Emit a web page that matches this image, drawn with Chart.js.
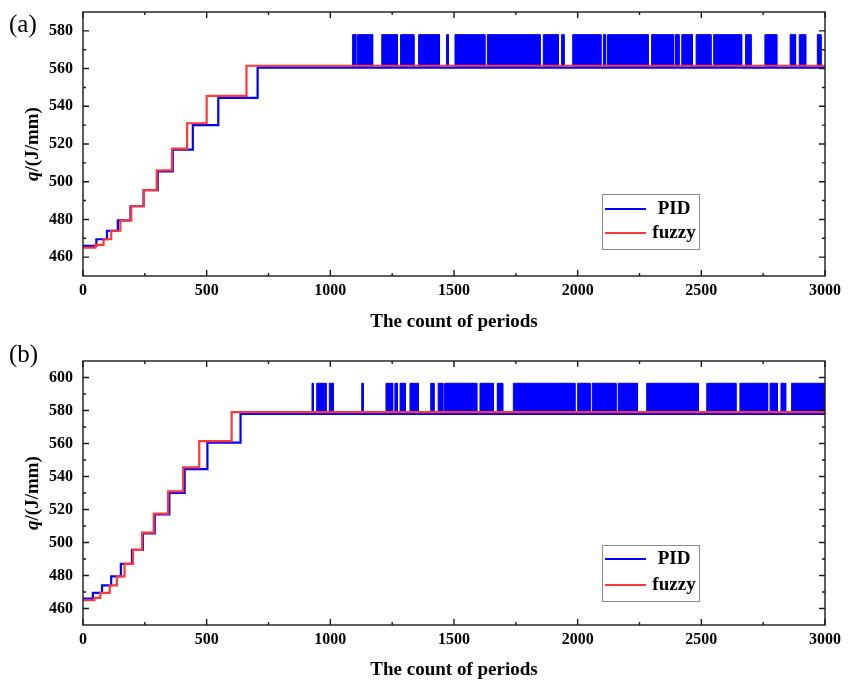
<!DOCTYPE html>
<html>
<head>
<meta charset="utf-8">
<script src="https://cdn.jsdelivr.net/npm/chart.js@4.4.0/dist/chart.umd.min.js"></script>
<style>
body { margin: 0; background: #fff; }
#wrap { width: 856px; height: 685px; position: relative; }
canvas { position: absolute; left: 0; }
</style>
</head>
<body>
<div id="wrap">
  <canvas id="chartA" width="856" height="340" style="top:0"></canvas>
  <canvas id="chartB" width="856" height="345" style="top:340px"></canvas>
</div>
<script>
// shared x axis
const xTicks = [0, 500, 1000, 1500, 2000, 2500, 3000];
const xMinor = [250, 750, 1250, 1750, 2250, 2750];

// panel (a)
const yTicksA = [460, 480, 500, 520, 540, 560, 580];
const yMinorA = [470, 490, 510, 530, 550, 570];
const pidStartA = [0, 54, 97, 141, 192, 245, 302, 363, 444, 547, 706];
const pidLevelA = [466, 469.5, 474, 479.5, 487, 495.5, 505.5, 517, 530, 544.5, 560.5];
const fuzzyStartA = [0, 50, 83, 114, 151, 195, 246, 298, 360, 421, 500, 661];
const fuzzyLevelA = [465, 466.5, 469.5, 474, 479.5, 487, 495.5, 506, 517.5, 531, 545.5, 561.5];
// periods where PID keeps switching between the two levels
const pidSwitchA = [[1090, 1103], [1109, 1171], [1208, 1271], [1284, 1338], [1357, 1441], [1470, 1477],
  [1504, 1625], [1635, 1848], [1861, 1922], [1935, 1945], [1980, 2094], [2104, 2113], [2121, 2285],
  [2299, 2387], [2394, 2410], [2421, 2464], [2479, 2539], [2550, 2663], [2679, 2701], [2757, 2805],
  [2859, 2881], [2896, 2922], [2969, 2984]];
const pidSwitchLevelsA = [560.5, 578];

// panel (b)
const yTicksB = [460, 480, 500, 520, 540, 560, 580, 600];
const yMinorB = [470, 490, 510, 530, 550, 570, 590];
const pidStartB = [0, 40, 77, 114, 153, 198, 242, 290, 349, 411, 503, 637];
const pidLevelB = [466, 469.5, 474, 479.5, 487, 495.5, 505.5, 517, 530, 544.5, 560.5, 578];
const fuzzyStartB = [0, 46, 70, 108, 137, 168, 202, 239, 286, 344, 405, 470, 601];
const fuzzyLevelB = [465, 466.5, 469.5, 474, 479.5, 487, 495.5, 506, 517.5, 531, 545.5, 561.5, 579];
const pidSwitchB = [[926, 931], [945, 972], [975, 983], [996, 1012], [1127, 1133], [1225, 1252],
  [1261, 1271], [1282, 1303], [1322, 1356], [1406, 1419], [1436, 1455], [1462, 1592], [1605, 1659],
  [1675, 1697], [1740, 1989], [2000, 2050], [2059, 2155], [2164, 2242], [2279, 2488], [2522, 2640],
  [2656, 2768], [2778, 2808], [2822, 2841], [2865, 2997]];
const pidSwitchLevelsB = [578, 596.5];

const X_END = 3000;
const SERIF = "'Liberation Serif', 'Times New Roman', serif";

function steps(starts, levels) {
    const pts = starts.map((x, i) => ({x: x, y: levels[i]}));
    pts.push({x: X_END, y: levels[levels.length - 1]});
    return pts;
}

function switching(intervals, levels) {
    const [lo, hi] = levels;
    return intervals.flatMap(([s, e]) => [{x: s, y: lo}, {x: s, y: hi}, {x: e, y: hi}, {x: e, y: lo}]);
}

// frame, inward ticks, axis titles, panel letter and the inside legend
const decor = {
    id: 'decor',
    afterDraw(chart, args, o) {
        const ctx = chart.ctx, a = chart.chartArea;
        const xs = chart.scales.x, ys = chart.scales.y;
        ctx.save();
        ctx.strokeStyle = '#1a1a1a';
        ctx.lineWidth = 1.4;
        ctx.strokeRect(a.left, a.top, a.right - a.left, a.bottom - a.top);
        ctx.beginPath();
        const mark = (px, py, dx, dy) => { ctx.moveTo(px, py); ctx.lineTo(px + dx, py + dy); };
        xTicks.forEach(v => { const p = xs.getPixelForValue(v); mark(p, a.bottom, 0, -6); mark(p, a.top, 0, 6); });
        xMinor.forEach(v => { const p = xs.getPixelForValue(v); mark(p, a.bottom, 0, -3); mark(p, a.top, 0, 3); });
        o.yTicks.forEach(v => { const p = ys.getPixelForValue(v); mark(a.left, p, 6, 0); mark(a.right, p, -6, 0); });
        o.yMinor.forEach(v => { const p = ys.getPixelForValue(v); mark(a.left, p, 3, 0); mark(a.right, p, -3, 0); });
        ctx.stroke();

        ctx.fillStyle = '#000';
        // x title
        ctx.font = 'bold 19px ' + SERIF;
        ctx.textAlign = 'center';
        ctx.textBaseline = 'middle';
        ctx.fillText('The count of periods', (a.left + a.right) / 2, o.xTitleY);

        // y title with italic q
        ctx.save();
        ctx.translate(o.yTitleX, (a.top + a.bottom) / 2);
        ctx.rotate(-Math.PI / 2);
        ctx.textAlign = 'left';
        const f1 = 'italic bold 19px ' + SERIF, f2 = 'bold 19px ' + SERIF;
        ctx.font = f1; const w1 = ctx.measureText('q').width;
        ctx.font = f2; const w2 = ctx.measureText('/(J/mm)').width;
        let sx = -(w1 + w2) / 2;
        ctx.font = f1; ctx.fillText('q', sx, 0);
        ctx.font = f2; ctx.fillText('/(J/mm)', sx + w1, 0);
        ctx.restore();

        // panel letter
        ctx.font = '25px ' + SERIF;
        ctx.textAlign = 'left';
        ctx.fillText(o.letter, 9, o.letterY);

        // legend
        const L = o.legend;
        ctx.fillStyle = '#fff';
        ctx.fillRect(L.x, L.y, L.w, L.h);
        ctx.strokeStyle = '#8c8c8c';
        ctx.lineWidth = 1;
        ctx.strokeRect(L.x + 0.5, L.y + 0.5, L.w, L.h);
        const items = chart.data.datasets.filter(d => !d.hideInLegend);
        ctx.font = 'bold 19px ' + SERIF;
        ctx.textAlign = 'center';
        items.forEach((d, i) => {
            const cy = L.y + L.rows[i];
            ctx.strokeStyle = d.borderColor;
            ctx.lineWidth = 2;
            ctx.beginPath();
            ctx.moveTo(L.x + 3, cy); ctx.lineTo(L.x + 44, cy);
            ctx.stroke();
            ctx.fillStyle = '#000';
            ctx.fillText(d.label, L.x + 72, cy);
        });
        ctx.restore();
    }
};

function makeChart(id, cfg) {
    const tickFont = {family: SERIF, weight: 'bold', size: 16};
    return new Chart(document.getElementById(id).getContext('2d'), {
        type: 'line',
        data: {
            datasets: [{
                label: 'PID',
                data: steps(cfg.pidStart, cfg.pidLevel),
                borderColor: '#0000ff',
                borderWidth: 2.2,
                stepped: true,
                pointRadius: 0,
                order: 2
            }, {
                label: 'fuzzy',
                data: steps(cfg.fuzzyStart, cfg.fuzzyLevel),
                borderColor: '#ff3838',
                borderWidth: 2.2,
                stepped: true,
                pointRadius: 0,
                order: 0
            }, {
                label: 'PID switching',
                hideInLegend: true,
                data: switching(cfg.switchIntervals, cfg.switchLevels),
                borderColor: '#0000ff',
                backgroundColor: '#0000ff',
                borderWidth: 1,
                pointRadius: 0,
                fill: {value: cfg.switchLevels[0]},
                order: 1
            }]
        },
        options: {
            responsive: false,
            animation: false,
            devicePixelRatio: 1,
            layout: {padding: {top: cfg.top, right: 31, left: 0, bottom: 0}},
            events: [],
            plugins: {
                legend: {display: false},
                tooltip: {enabled: false},
                decor: cfg.decor
            },
            scales: {
                x: {
                    type: 'linear',
                    min: 0, max: X_END,
                    afterBuildTicks: s => { s.ticks = xTicks.map(v => ({value: v})); },
                    afterFit: s => { s.height = cfg.xHeight; s.paddingLeft = 0; s.paddingRight = 0; },
                    grid: {display: false, drawTicks: false},
                    border: {display: false},
                    ticks: {font: tickFont, color: '#000', padding: 5, maxRotation: 0,
                            callback: v => String(v)}
                },
                y: {
                    min: 450, max: cfg.yMax,
                    afterBuildTicks: s => { s.ticks = cfg.yTicks.map(v => ({value: v})); },
                    afterFit: s => { s.width = 83; s.paddingTop = 0; s.paddingBottom = 0; },
                    grid: {display: false, drawTicks: false},
                    border: {display: false},
                    ticks: {font: tickFont, color: '#000', padding: 10,
                            callback: v => String(v)}
                }
            }
        },
        plugins: [decor]
    });
}

makeChart('chartA', {
    pidStart: pidStartA, pidLevel: pidLevelA,
    fuzzyStart: fuzzyStartA, fuzzyLevel: fuzzyLevelA,
    switchIntervals: pidSwitchA, switchLevels: pidSwitchLevelsA,
    yTicks: yTicksA, yMax: 590, top: 12, xHeight: 64,
    decor: {
        yTicks: yTicksA, yMinor: yMinorA, xTitleY: 322, yTitleX: 33,
        letter: '(a)', letterY: 25,
        legend: {x: 602, y: 194, w: 97, h: 55, rows: [15, 39]}
    }
});

makeChart('chartB', {
    pidStart: pidStartB, pidLevel: pidLevelB,
    fuzzyStart: fuzzyStartB, fuzzyLevel: fuzzyLevelB,
    switchIntervals: pidSwitchB, switchLevels: pidSwitchLevelsB,
    yTicks: yTicksB, yMax: 610, top: 21, xHeight: 60,
    decor: {
        yTicks: yTicksB, yMinor: yMinorB, xTitleY: 330, yTitleX: 33,
        letter: '(b)', letterY: 15,
        legend: {x: 602, y: 205, w: 97, h: 56, rows: [14, 40]}
    }
});
</script>
</body>
</html>
